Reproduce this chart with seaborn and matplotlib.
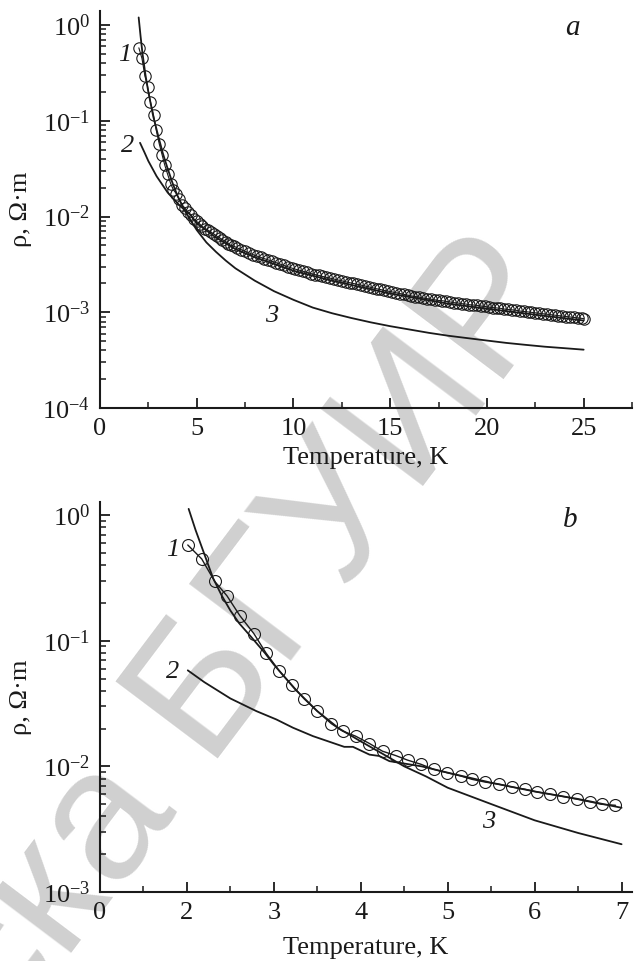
import numpy as np
import pandas as pd
import matplotlib
matplotlib.use("Agg")
import matplotlib.pyplot as plt
import seaborn as sns
from matplotlib.ticker import FixedLocator, FixedFormatter, LogLocator, NullFormatter, MultipleLocator

# ---------------- data ----------------
# measured resistivity (curve 1, circles), T <= 7 K
T_meas_low = [2.01, 2.17, 2.32, 2.46, 2.61, 2.77, 2.91, 3.06, 3.21, 3.35, 3.50, 3.66,
              3.79, 3.94, 4.10, 4.25, 4.40, 4.54, 4.69, 4.84, 4.99, 5.15, 5.28, 5.43,
              5.59, 5.74, 5.89, 6.03, 6.18, 6.33, 6.49, 6.64, 6.77, 6.93]
rho_meas_low = [0.578, 0.448, 0.296, 0.228, 0.158, 0.114, 0.0798, 0.0578, 0.0442, 0.0344,
                0.0275, 0.0219, 0.0191, 0.0174, 0.0152, 0.0132, 0.0122, 0.0112, 0.0104,
                0.00946, 0.00891, 0.00838, 0.00788, 0.00750, 0.00720, 0.00685, 0.00657,
                0.00625, 0.00600, 0.00575, 0.00547, 0.00521, 0.00499, 0.00490]
# measured resistivity, T > 7 K (values in 1e-3 Ohm*m)
T_meas_high = [7.1, 7.3, 7.5, 7.7, 7.9, 8.1, 8.3, 8.5, 8.7, 8.9, 9.1, 9.3, 9.5, 9.7, 9.9,
               10.1, 10.3, 10.5, 10.7, 10.9, 11.1, 11.3, 11.5, 11.7, 11.9, 12.1, 12.3, 12.5,
               12.7, 12.9, 13.1, 13.3, 13.5, 13.7, 13.9, 14.1, 14.3, 14.5, 14.7, 14.9, 15.1,
               15.3, 15.5, 15.7, 15.9, 16.1, 16.3, 16.5, 16.7, 16.9, 17.1, 17.3, 17.5, 17.7,
               17.9, 18.1, 18.3, 18.5, 18.7, 18.9, 19.1, 19.3, 19.5, 19.7, 19.9, 20.1, 20.3,
               20.5, 20.7, 20.9, 21.1, 21.3, 21.5, 21.7, 21.9, 22.1, 22.3, 22.5, 22.7, 22.9,
               23.1, 23.3, 23.5, 23.7, 23.9, 24.1, 24.3, 24.5, 24.7, 24.9, 25.0]
rho_meas_high_milli = [4.69, 4.51, 4.34, 4.17, 4.01, 3.87, 3.75, 3.63, 3.52, 3.40,
                       3.30, 3.19, 3.09, 2.99, 2.90, 2.82, 2.75, 2.68, 2.61, 2.54,
                       2.48, 2.43, 2.37, 2.32, 2.27, 2.22, 2.17, 2.13, 2.08, 2.04,
                       2.00, 1.96, 1.92, 1.88, 1.84, 1.80, 1.76, 1.73, 1.69, 1.66,
                       1.63, 1.60, 1.57, 1.54, 1.51, 1.48, 1.46, 1.44, 1.41, 1.39,
                       1.37, 1.35, 1.33, 1.32, 1.30, 1.28, 1.26, 1.25, 1.23, 1.22,
                       1.20, 1.19, 1.18, 1.16, 1.15, 1.13, 1.12, 1.11, 1.10, 1.08,
                       1.07, 1.06, 1.05, 1.03, 1.02, 1.01, 0.999, 0.987, 0.976, 0.965,
                       0.954, 0.944, 0.933, 0.923, 0.913, 0.903, 0.893, 0.883, 0.873, 0.864,
                       0.859]

# panel a, calculated curves 2 and 3
T_a2 = [2.07, 2.3, 2.5, 2.93, 3.5, 4.14, 4.66, 5.0, 6.0, 7.0, 8.0, 10.0, 12.0, 15.0, 18.0, 20.0, 22.0, 25.0]
rho_a2 = [0.0589, 0.0468, 0.0380, 0.0263, 0.0178, 0.0129, 0.0105, 0.00851, 0.00603, 0.00457,
          0.00376, 0.00272, 0.00214, 0.00157, 0.00123, 0.00109, 0.000971, 0.000820]
T_a3 = [2.0, 2.1, 2.2, 2.35, 2.5, 2.75, 3.0, 3.25, 3.5, 3.75, 4.0, 4.33, 4.66, 5.0, 5.5, 6.0,
        6.5, 7.0, 8.0, 9.0, 10.0, 11.0, 12.0, 13.0, 14.0, 15.0, 16.0, 17.0, 18.0, 19.0, 20.0,
        21.0, 22.0, 23.0, 24.0, 25.0]
rho_a3 = [1.20, 0.759, 0.501, 0.302, 0.200, 0.112, 0.0708, 0.0457, 0.0316, 0.0224, 0.0166,
          0.0120, 0.00933, 0.00724, 0.00537, 0.00427, 0.00347, 0.00288, 0.00214, 0.00166,
          0.00135, 0.00112, 0.000977, 0.000871, 0.000785, 0.000716, 0.000661, 0.000610,
          0.000569, 0.000537, 0.000507, 0.000479, 0.000457, 0.000437, 0.000422, 0.000407]

# panel b, calculated curves 2 and 3
T_b2 = [2.01, 2.2, 2.5, 2.8, 3.03, 3.22, 3.45, 3.81, 3.91, 4.10, 4.21, 4.33, 4.7, 5.0, 5.5, 6.0, 6.5, 7.0]
rho_b2 = [0.0581, 0.0468, 0.0347, 0.0275, 0.0236, 0.0203, 0.0174, 0.0143, 0.0143, 0.0124,
          0.0121, 0.0110, 0.0100, 0.00891, 0.00741, 0.00631, 0.00550, 0.00468]
T_b3 = [2.02, 2.10, 2.20, 2.30, 2.40, 2.50, 2.60, 2.75, 2.90, 3.0, 3.25, 3.5, 3.75, 4.0,
        4.25, 4.5, 4.75, 5.0, 5.5, 6.0, 6.5, 7.0]
rho_b3 = [1.12, 0.759, 0.490, 0.316, 0.229, 0.174, 0.138, 0.105, 0.0794, 0.0646, 0.0407,
          0.0275, 0.0200, 0.0158, 0.0126, 0.0100, 0.00832, 0.00676, 0.00501, 0.00372,
          0.00295, 0.00240]

xticks_a = [0, 5, 10, 15, 20, 25]
xtick_labels_a = ["0", "5", "10", "15", "20", "25"]
xticks_b = [1, 2, 3, 4, 5, 6, 7]
xtick_labels_b = ["0", "2", "3", "4", "5", "6", "7"]

# ---------------- style ----------------
sns.set_theme(style="ticks")
plt.rcParams["font.family"] = ["Liberation Serif", "DejaVu Serif"]
plt.rcParams["mathtext.fontset"] = "stix"
plt.rcParams["axes.linewidth"] = 1.5
FS = 19

T_meas = list(T_meas_low) + list(T_meas_high)
rho_meas = list(rho_meas_low) + [v * 1e-3 for v in rho_meas_high_milli]
meas = pd.DataFrame({"T": T_meas, "rho": rho_meas})
meas_b = meas[meas["T"] <= 7.0]

fig = plt.figure(figsize=(6.38, 9.61), dpi=100)
fig.patch.set_facecolor("white")

# watermark
fig.text(0.893, 0.697, "ска БГУИР", rotation=53, rotation_mode="anchor",
         ha="right", va="baseline", fontsize=134, color="#d0d0d0",
         family=["Liberation Sans", "DejaVu Sans"], zorder=0)

ax_a = fig.add_axes([0.1567, 0.5754, 0.8339, 0.4131])
ax_b = fig.add_axes([0.1567, 0.0718, 0.8339, 0.4058])

for ax in (ax_a, ax_b):
    ax.set_zorder(1)
    ax.patch.set_alpha(0)
    ax.set_yscale("log")

lw = 1.3
# panel a
sns.lineplot(x=T_a3, y=rho_a3, ax=ax_a, color="k", lw=lw, estimator=None, sort=False)
sns.lineplot(x=T_a2, y=rho_a2, ax=ax_a, color="k", lw=lw, estimator=None, sort=False)
sns.lineplot(data=meas, x="T", y="rho", ax=ax_a, color="k", lw=0.8, estimator=None, sort=False,
             marker="o", markersize=8.2, markerfacecolor="none", markeredgecolor="k",
             markeredgewidth=0.8)
# panel b
sns.lineplot(x=T_b3, y=rho_b3, ax=ax_b, color="k", lw=lw, estimator=None, sort=False)
sns.lineplot(x=T_b2, y=rho_b2, ax=ax_b, color="k", lw=lw, estimator=None, sort=False)
sns.lineplot(data=meas_b, x="T", y="rho", ax=ax_b, color="k", lw=1.0, estimator=None, sort=False,
             marker="o", markersize=8.6, markerfacecolor="none", markeredgecolor="k",
             markeredgewidth=0.8)

ax_a.set_xlim(0, 27.5)
ax_a.set_ylim(1e-4, 1.4)
ax_a.xaxis.set_major_locator(FixedLocator(xticks_a))
ax_a.xaxis.set_major_formatter(FixedFormatter(xtick_labels_a))
ax_a.xaxis.set_minor_locator(MultipleLocator(2.5))

ax_b.set_xlim(1, 7.12)
ax_b.set_ylim(1e-3, 1.27)
ax_b.xaxis.set_major_locator(FixedLocator(xticks_b))
ax_b.xaxis.set_major_formatter(FixedFormatter(xtick_labels_b))
ax_b.xaxis.set_minor_locator(MultipleLocator(0.5))

for ax, ylab_y, xlab_y in ((ax_a, 0.5, -0.098), (ax_b, 0.5, -0.115)):
    ax.yaxis.set_major_locator(LogLocator(base=10, numticks=10))
    ax.yaxis.set_minor_locator(LogLocator(base=10, subs=np.arange(2, 10), numticks=20))
    ax.yaxis.set_minor_formatter(NullFormatter())
    sns.despine(ax=ax)
    ax.tick_params(which="major", direction="in", length=7, width=1.3, labelsize=FS,
                   pad=7, colors="k")
    ax.tick_params(which="minor", direction="in", length=4.5, width=1.1, colors="k")
    ax.set_xlabel("Temperature, K", fontsize=FS, color="k")
    ax.set_ylabel("\u03c1, \u03a9\u00b7m", fontsize=FS, color="k")
    ax.yaxis.set_label_coords(-0.128, ylab_y)
    ax.xaxis.set_label_coords(0.5, xlab_y)
    ax.grid(False)
    for s in ax.spines.values():
        s.set_color("k")

# curve and panel labels
lab = dict(fontsize=FS, fontstyle="italic", color="k", ha="center", va="center")
ax_a.text(1.3, 0.49, "1", **lab)
ax_a.text(1.45, 0.054, "2", **lab)
ax_a.text(8.9, 9.1e-4, "3", **lab)
ax_a.text(24.4, 0.93, "a", fontsize=FS + 2, fontstyle="italic", color="k", ha="center", va="center")
ax_b.text(1.84, 0.53, "1", **lab)
ax_b.text(1.84, 0.056, "2", **lab)
ax_b.text(5.47, 0.0036, "3", **lab)
ax_b.text(6.41, 0.91, "b", fontsize=FS + 2, fontstyle="italic", color="k", ha="center", va="center")

fig.savefig("out.png", dpi=100, facecolor="white")
